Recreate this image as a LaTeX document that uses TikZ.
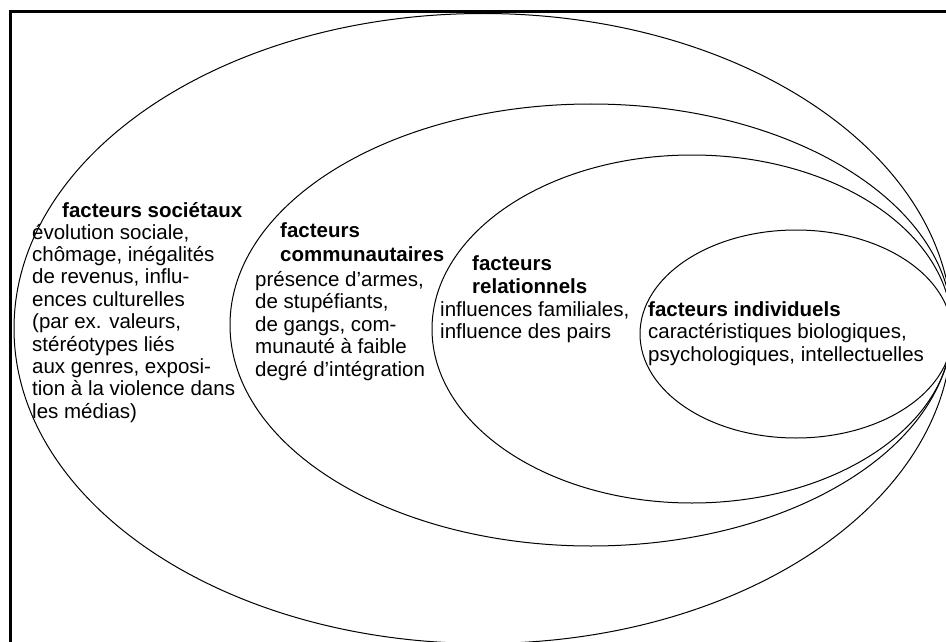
\documentclass[tikz,border=0pt]{standalone}
\usepackage{fontspec}
\setmainfont{Liberation Sans}
\begin{document}
\begin{tikzpicture}[x=1pt,y=-1pt,
  ring/.style={draw=black,line width=1pt},
  frame/.style={draw=black,line width=2.7pt},
  lbl/.style={anchor=base west,inner sep=0pt,font=\fontsize{20.5}{22.4}\selectfont},
  ttl/.style={lbl,font=\fontsize{20.5}{22.4}\selectfont\bfseries}]
\useasboundingbox (0,0) rectangle (946,642);
\clip (0,0) rectangle (946,642);
\fill[white] (0,0) rectangle (946,642);
% frame (only top and left edges visible)
\draw[frame] (10.7,1000) -- (10.7,11.3) -- (1100,11.3);
% nested ellipses
\draw[ring] (483,328.5) ellipse [x radius=469, y radius=315];
\draw[ring] (591,325) ellipse [x radius=361, y radius=221];
\draw[ring] (692,329) ellipse [x radius=260, y radius=174];
\draw[ring] (796,334) ellipse [x radius=156, y radius=104];
% societal
\node[ttl] (s0) at (62,217) {facteurs sociétaux};
\node[lbl] (s1) at (32,239) {évolution sociale,};
\node[lbl] (s2) at (32,261.4) {chômage, inégalités};
\node[lbl] (s3) at (32,283.8) {de revenus, influ-};
\node[lbl] (s4) at (32,306.2) {ences culturelles};
\node[lbl] (s5) at (32,328.6) {(par ex. valeurs,};
\node[lbl] (s6) at (32,351) {stéréotypes liés};
\node[lbl] (s7) at (32,373.4) {aux genres, exposi-};
\node[lbl] (s8) at (32,395.8) {tion à la violence dans};
\node[lbl] (s9) at (32,418.2) {les médias)};
% community
\node[ttl] (c0) at (280,237) {facteurs};
\node[ttl] (c0b) at (280,261) {communautaires};
\node[lbl] (c1) at (255,286) {présence d’armes,};
\node[lbl] (c2) at (255,308.5) {de stupéfiants,};
\node[lbl] (c3) at (255,331) {de gangs, com-};
\node[lbl] (c4) at (255,353.5) {munauté à faible};
\node[lbl] (c5) at (255,376) {degré d’intégration};
% relational
\node[ttl] (r0) at (472,270) {facteurs};
\node[ttl] (r0b) at (472,293) {relationnels};
\node[lbl] (r1) at (440,316) {influences familiales,};
\node[lbl] (r2) at (440,338.5) {influence des pairs};
% individual
\node[ttl] (i0) at (648,316) {facteurs individuels};
\node[lbl] (i1) at (648,338.5) {caractéristiques biologiques,};
\node[lbl] (i2) at (648,361) {psychologiques, intellectuelles};
\end{tikzpicture}
\end{document}
